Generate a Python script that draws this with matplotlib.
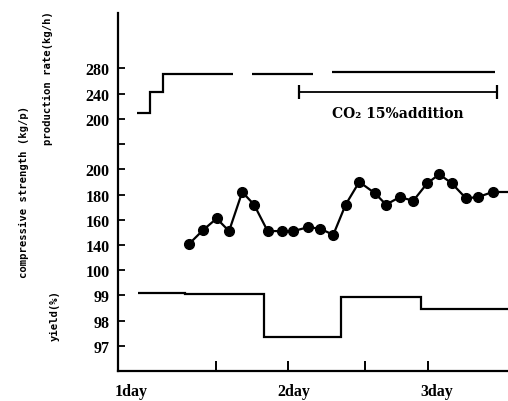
import matplotlib
matplotlib.use("Agg")
import matplotlib.pyplot as plt

# ---------------- data (time in days) ----------------
# production rate (kg/h): stepped pieces
prod1_edges = [1.040, 1.127, 1.214, 1.682]
prod1_vals = [210, 242, 272]
prod2_edges = [1.809, 2.217]
prod2_vals = [272]
prod3_edges = [2.344, 3.435]
prod3_vals = [274]

# CO2 15% addition period
co2_span = [2.124, 3.448]
co2_level = 243  # drawn on production-rate scale

# compressive strength (kg/p)
str_t = [1.390, 1.484, 1.573, 1.656, 1.744, 1.823, 1.914, 2.008, 2.086, 2.182,
         2.264, 2.353, 2.436, 2.527, 2.632, 2.706, 2.799, 2.888, 2.982, 3.062,
         3.145, 3.241, 3.323, 3.419]
str_v = [141, 152, 161, 151, 182, 172, 151, 151, 151, 154,
         153, 148, 172, 190, 181, 172, 178, 175, 189, 196,
         189, 177, 178, 182]
str_tail_t = [3.419, 3.522]
str_tail_v = [182, 182]

# yield (%)
yield_edges = [1.047, 1.361, 1.890, 2.405, 2.940, 3.522]
yield_vals = [99.1, 99.05, 97.35, 98.95, 98.45]

# axis tick labels (stacked scales)
ytick_pos = [1, 2, 3, 4, 5, 6, 7, 8, 9, 10, 11, 12]
ytick_labels = ['97', '98', '99', '100', '140', '160', '180', '200', '', '200', '240', '280']
xtick_minor = [1.0, 1.569, 2.05, 2.565, 2.987]
xlabel_pos = [1.0, 2.09, 3.047]
xlabel_txt = ['1day', '2day', '3day']


def y_prod(p):
    return 10 + (p - 200) / 40.0


def y_str(s):
    return 5 + (s - 140) / 20.0


def y_yield(v):
    return v - 96.0


W, H = 508, 402
fig = plt.figure(figsize=(W / 100, H / 100), dpi=100)
ax = fig.add_axes([118 / W, 30 / H, 390 / W, 358 / H])
ax.set_xlim(0.913, 3.522)
ax.set_ylim(0, 14.2)

lw = 1.6
col = 'black'

for edges, vals in [(prod1_edges, prod1_vals), (prod2_edges, prod2_vals), (prod3_edges, prod3_vals)]:
    ax.stairs([y_prod(v) for v in vals], edges, baseline=None, color=col, lw=lw)

ax.stairs([y_yield(v) for v in yield_vals], yield_edges, baseline=None, color=col, lw=lw)

ax.plot(str_t, [y_str(v) for v in str_v], color=col, lw=lw, marker='o', ms=7)
ax.plot(str_tail_t, [y_str(v) for v in str_tail_v], color=col, lw=lw, clip_on=False)

# CO2 addition bar
yc = y_prod(co2_level)
ax.plot(co2_span, [yc, yc], color=col, lw=1.3)
ax.plot(co2_span, [yc, yc], ls='none', marker='|', ms=10, mew=1.6, color=col)
ax.text(sum(co2_span) / 2, yc - 0.86, 'CO\u2082 15%addition', ha='center', va='center',
        family='DejaVu Serif', fontweight='bold', fontsize=10)

# spines
for s in ['top', 'right']:
    ax.spines[s].set_visible(False)
for s in ['left', 'bottom']:
    ax.spines[s].set_linewidth(1.6)

ax.set_yticks(ytick_pos)
ax.set_yticklabels(ytick_labels, family='Liberation Serif', fontweight='bold', fontsize=11.5)
ax.tick_params(axis='y', direction='in', length=5, width=1.3, pad=6)

ax.set_xticks(xlabel_pos)
ax.set_xticklabels(xlabel_txt, family='Liberation Serif', fontweight='bold', fontsize=11.5)
ax.set_xticks(xtick_minor, minor=True)
ax.tick_params(axis='x', which='major', length=0, pad=9)
ax.tick_params(axis='x', which='minor', direction='in', length=7, width=1.4)

lab_kw = dict(rotation=90, ha='center', va='center', family='DejaVu Sans Mono',
              fontweight='bold', fontsize=7.6)
fig.text(48 / W, 1 - 78 / H, 'production rate(kg/h)', **lab_kw)
fig.text(24 / W, 1 - 192 / H, 'compressive strength (kg/p)', **lab_kw)
fig.text(55 / W, 1 - 316 / H, 'yield(%)', **lab_kw)

fig.savefig('out.png', dpi=100)
